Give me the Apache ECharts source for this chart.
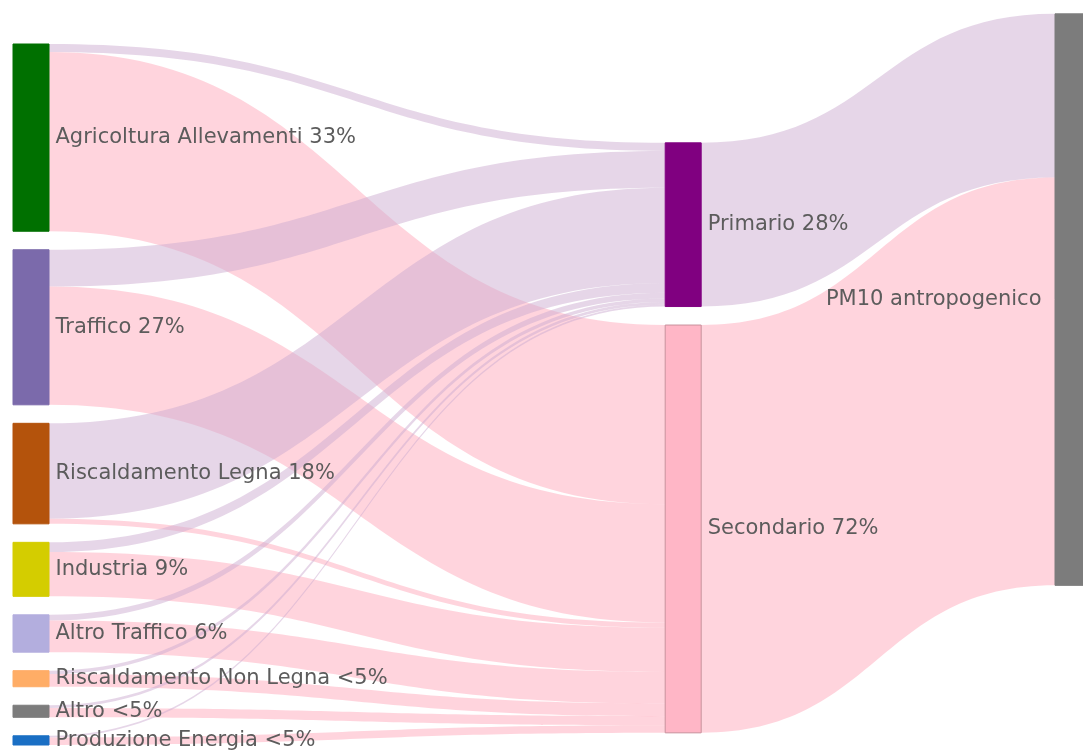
<!DOCTYPE html>
<html>
<head>
<meta charset="utf-8">
<title>PM10 sankey</title>
<script src="https://cdn.jsdelivr.net/npm/echarts@6/dist/echarts.min.js"></script>
<style>
  html, body { margin: 0; padding: 0; background: #fff; }
  #main { width: 1083px; height: 751px; }
</style>
</head>
<body>
<div id="main"></div>
<script>
// sorgenti (colonna sinistra)
var sources = ['Agricoltura Allevamenti 33%', 'Traffico 27%', 'Riscaldamento Legna 18%', 'Industria 9%',
  'Altro Traffico 6%', 'Riscaldamento Non Legna <5%', 'Altro <5%', 'Produzione Energia <5%'];
// tipo di particolato (colonna centrale)
var kinds = ['Primario 28%', 'Secondario 72%'];
var total = 'PM10 antropogenico';

// quote (%)
var toPrimario = [1.4, 6.4, 16.6, 1.7, 1.0, 0.6, 0.5, 0.3];
var toSecondario = [31.2, 20.6, 0.9, 7.7, 5.5, 2.2, 1.6, 1.3];

var sourceColors = ['#007000', '#7b6aab', '#b4530c', '#d4cd00', '#b3aede', '#ffad66', '#7c7c7c', '#1a6fc4'];
var kindColors = ['#800080', '#ffb6c6'];
var kindLinkColors = ['#cdaed2', '#ffa9bb'];

// posizione delle colonne (frazioni del box della serie)
var midColX = 0.605;
var midColTop = 0.141;
var rightColTop = -0.043;
var gap = 18.5;
var boxH = 751 - 44 - 6;

var primSum = 0, secSum = 0;
sources.forEach(function (name, i) {
  primSum += toPrimario[i];
  secSum += toSecondario[i];
});
var allSum = primSum + secSum;
var ky = (boxH - 7 * gap) / allSum;

var nodes = [];
sources.forEach(function (name, i) {
  nodes.push({ name: name, itemStyle: { color: sourceColors[i], borderColor: sourceColors[i] } });
});
nodes.push({
  name: kinds[0], localX: midColX, localY: midColTop,
  itemStyle: { color: kindColors[0], borderColor: kindColors[0] }
});
nodes.push({
  name: kinds[1], localX: midColX, localY: midColTop + (primSum * ky + gap) / boxH,
  itemStyle: { color: kindColors[1], borderColor: '#c8909c' }
});
nodes.push({
  name: total, localY: rightColTop,
  itemStyle: { color: '#7c7c7c', borderColor: '#7c7c7c' },
  label: { position: 'left', distance: 13 }
});

var links = [];
sources.forEach(function (name, i) {
  links.push({ source: name, target: kinds[0], value: toPrimario[i], lineStyle: { color: kindLinkColors[0] } });
  links.push({ source: name, target: kinds[1], value: toSecondario[i], lineStyle: { color: kindLinkColors[1] } });
});
links.push({ source: kinds[0], target: total, value: primSum, lineStyle: { color: kindLinkColors[0] } });
links.push({ source: kinds[1], target: total, value: secSum, lineStyle: { color: kindLinkColors[1] } });

var chart = echarts.init(document.getElementById('main'));
var option = {
  animation: false,
  series: [{
    type: 'sankey',
    left: 13,
    right: -8,
    top: 44,
    bottom: 6,
    nodeWidth: 36,
    nodeGap: gap,
    nodeAlign: 'justify',
    layoutIterations: 0,
    draggable: false,
    emphasis: { disabled: true },
    data: nodes,
    links: links,
    itemStyle: { borderWidth: 1 },
    lineStyle: { opacity: 0.5, curveness: 0.5 },
    label: {
      position: 'right',
      distance: 6,
      color: '#5c5c5c',
      fontFamily: 'DejaVu Sans',
      fontSize: 21
    }
  }]
};
chart.setOption(option);
</script>
</body>
</html>
